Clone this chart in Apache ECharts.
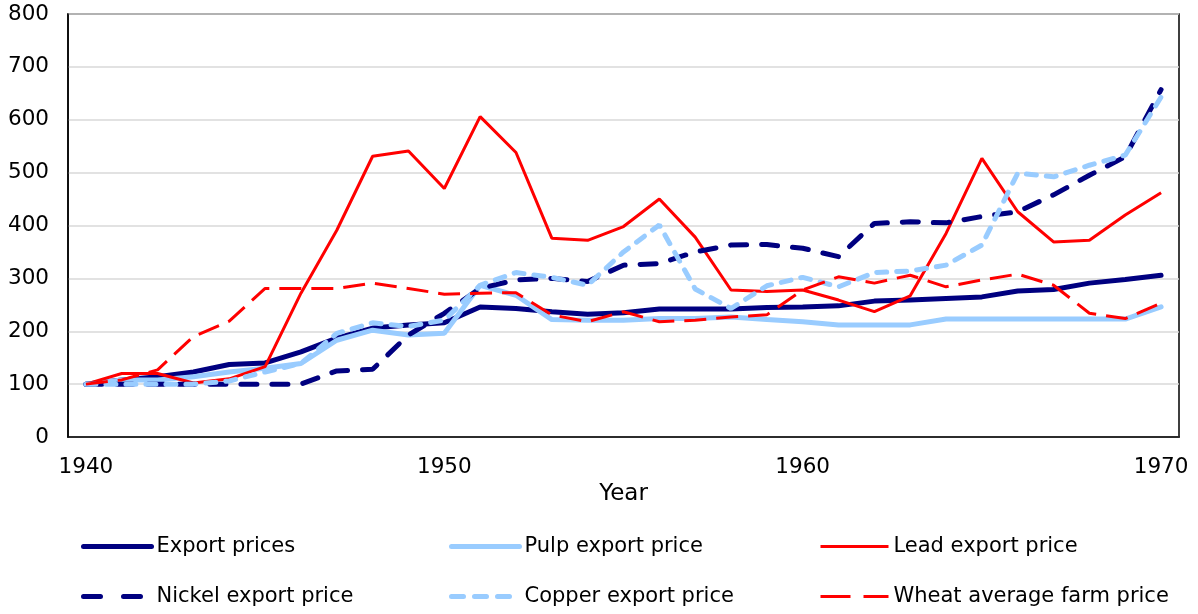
<!DOCTYPE html>
<html>
<head>
<meta charset="utf-8">
<script src="https://cdn.jsdelivr.net/npm/echarts@6/dist/echarts.min.js"></script>
<style>
  html, body { margin: 0; padding: 0; background: #fff; }
  #chart { width: 1198px; height: 614px; }
</style>
</head>
<body>
<div id="chart"></div>
<script>
// years 1940..1970
const years = [];
for (let y = 1940; y <= 1970; y++) years.push(String(y));

const exportPrices = [100, 108, 114, 123, 137, 140, 161, 187, 206, 212, 216,
  246, 243, 237, 232, 235, 242, 242, 242, 245, 246,
  248, 257, 259, 262, 265, 276, 279, 291, 298, 306];
const pulpPrice = [100, 108, 108, 114, 123, 130, 139, 183, 202, 193, 196,
  287, 268, 222, 221, 221, 224, 224, 227, 222, 218,
  212, 212, 212, 223, 223, 223, 223, 223, 223, 246];
const leadPrice = [100, 120, 120, 102, 110, 133, 272, 391, 531, 541, 470,
  606, 538, 376, 372, 398, 450, 378, 278, 275, 278,
  259, 237, 267, 385, 527, 426, 369, 372, 420, 462];
const nickelPrice = [100, 100, 100, 100, 100, 100, 100, 125, 128, 193, 234,
  281, 297, 300, 294, 325, 328, 350, 363, 364, 357,
  341, 404, 407, 405, 417, 426, 458, 495, 530, 657];
const copperPrice = [100, 100, 100, 100, 106, 123, 139, 196, 216, 209, 221,
  287, 311, 302, 287, 350, 401, 280, 243, 286, 302,
  284, 311, 314, 325, 363, 499, 492, 514, 533, 643];
const wheatPrice = [100, 108, 127, 190, 219, 281, 281, 281, 291, 281, 270,
  272, 273, 231, 218, 237, 218, 221, 227, 231, 278,
  303, 291, 306, 284, 297, 308, 287, 234, 224, 253];

const NAVY = "#000080";
const LIGHT = "#99ccff";
const RED = "#ff0000";
const FONT = "DejaVu Sans";

// line styles, shared by series and legend
const styles = {
  "Export prices": { color: NAVY, width: 5, type: "solid", cap: "round" },
  "Pulp export price": { color: LIGHT, width: 5, type: "solid", cap: "round" },
  "Lead export price": { color: RED, width: 3, type: "solid", cap: "butt" },
  "Nickel export price": { color: NAVY, width: 5, type: [16, 15], cap: "round" },
  "Copper export price": { color: LIGHT, width: 5, type: [10, 10], cap: "round" },
  "Wheat average farm price": { color: RED, width: 3, type: [22, 10], cap: "butt" },
};

const chart = echarts.init(document.getElementById("chart"));

function line(name, data) {
  return {
    name: name,
    type: "line",
    data: data,
    symbol: "none",
    animation: false,
    lineStyle: styles[name],
    itemStyle: { color: styles[name].color },
  };
}

// one legend per entry so the columns line up like the original
function legendAt(name, left, top, dash) {
  const s = styles[name];
  return {
    left: left,
    top: top,
    padding: 0,
    itemWidth: 68,
    itemHeight: 20,
    itemGap: 0,
    selectedMode: false,
    itemStyle: { opacity: 0 },
    lineStyle: { color: s.color, width: s.width, type: dash || s.type, cap: s.cap },
    textStyle: { fontFamily: FONT, fontSize: 21, color: "#000" },
    data: [name],
  };
}

chart.setOption({
  animation: false,
  grid: {
    left: 68,
    right: 19,
    top: 14,
    bottom: 177,
    show: true,
    borderColor: "#000",
    borderWidth: 1.5,
  },
  legend: [
    legendAt("Export prices", 81, 536),
    legendAt("Nickel export price", 81, 586, [17, 23]),
    legendAt("Pulp export price", 449, 536),
    legendAt("Copper export price", 449, 586, [12, 11]),
    legendAt("Lead export price", 819, 536),
    legendAt("Wheat average farm price", 819, 586, [30, 13]),
  ],
  xAxis: {
    type: "category",
    data: years,
    boundaryGap: true,
    name: "Year",
    nameLocation: "middle",
    nameGap: 42,
    nameTextStyle: { fontFamily: FONT, fontSize: 23, color: "#000" },
    axisLine: { show: true, lineStyle: { color: "#000", width: 1.5 } },
    axisTick: { show: false },
    axisLabel: {
      interval: 9,
      margin: 19,
      fontFamily: FONT,
      fontSize: 21.5,
      color: "#000",
    },
  },
  yAxis: {
    type: "value",
    min: 0,
    max: 800,
    interval: 100,
    axisLine: { show: true, lineStyle: { color: "#000", width: 1.5 } },
    axisTick: { show: false },
    splitLine: { lineStyle: { color: "#d9d9d9", width: 1.5 } },
    axisLabel: {
      margin: 19,
      fontFamily: FONT,
      fontSize: 21.5,
      color: "#000",
    },
  },
  series: [
    line("Export prices", exportPrices),
    line("Pulp export price", pulpPrice),
    line("Lead export price", leadPrice),
    line("Nickel export price", nickelPrice),
    line("Copper export price", copperPrice),
    line("Wheat average farm price", wheatPrice),
  ],
});
</script>
</body>
</html>
